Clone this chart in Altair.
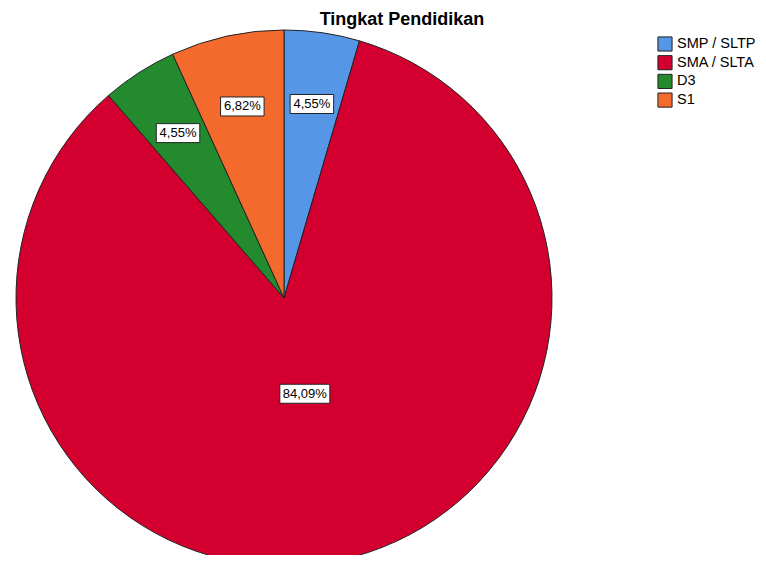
import altair as alt
import pandas as pd

categories = ["SMP / SLTP", "SMA / SLTA", "D3", "S1"]
counts = [2, 37, 2, 3]
colors = ["#5596e6", "#d3002f", "#238b2d", "#f46a2c"]

df = pd.DataFrame({"cat": categories, "count": counts, "ord": list(range(len(categories)))})

CX, CY, R = 276, 290, 268

base = alt.Chart(df).transform_joinaggregate(
    total="sum(count)"
).transform_window(
    cum="sum(count)", sort=[alt.SortField("ord")], frame=[None, 0]
).transform_calculate(
    pct="datum.count / datum.total",
    mid="(datum.cum - datum.count / 2) / datum.total * 2 * PI",
    lr="datum.pct > 0.5 ? 98 : 196",
    label="replace(format(datum.pct * 100, '.2f'), '.', ',') + '%'",
).transform_calculate(
    lx=f"{CX} + datum.lr * sin(datum.mid)",
    ly=f"{CY} - datum.lr * cos(datum.mid)",
    bw="6.5 * length(datum.label) + 11",
).transform_calculate(
    bx1="datum.lx - datum.bw / 2",
    bx2="datum.lx + datum.bw / 2",
    by1="datum.ly - 9.5",
    by2="datum.ly + 9.5",
)

pie = alt.Chart(df).mark_arc(stroke="#222222", strokeWidth=1, radius=R).encode(
    theta=alt.Theta("count:Q", stack=True),
    color=alt.Color(
        "cat:N",
        scale=alt.Scale(domain=categories, range=colors),
        sort=categories,
        legend=alt.Legend(
            title=None, orient="none", legendX=649, legendY=28,
            symbolType="square", symbolSize=200, symbolStrokeColor="#222222",
            symbolStrokeWidth=1, symbolOpacity=1, labelFontSize=14.5, labelFont="Liberation Sans",
            labelColor="#000000", rowPadding=-1.3, labelOffset=4, padding=0,
        ),
    ),
    order=alt.Order("ord:Q"),
    x=alt.value(CX),
    y=alt.value(CY),
)

boxes = base.mark_rect(fill="white", stroke="#222222", strokeWidth=1).encode(
    x=alt.X("bx1:Q", scale=None, axis=None),
    x2="bx2:Q",
    y=alt.Y("by1:Q", scale=None, axis=None),
    y2="by2:Q",
)

texts = base.mark_text(fontSize=13, font="Liberation Sans", color="black", baseline="middle", align="center").encode(
    x=alt.X("lx:Q", scale=None, axis=None),
    y=alt.Y("ly:Q", scale=None, axis=None),
    text="label:N",
)

title = alt.Chart(pd.DataFrame({"t": ["Tingkat Pendidikan"]})).mark_text(
    fontSize=18, fontWeight="bold", font="Liberation Sans", color="black", baseline="alphabetic"
).encode(x=alt.value(394), y=alt.value(17), text="t:N")

chart = alt.layer(pie, boxes, texts, title).properties(
    width=750, height=547, padding=0, autosize=alt.AutoSizeParams(type="none")
).configure_view(stroke=None)

chart.save("out.html", embed_options={"renderer": "svg", "actions": False})
